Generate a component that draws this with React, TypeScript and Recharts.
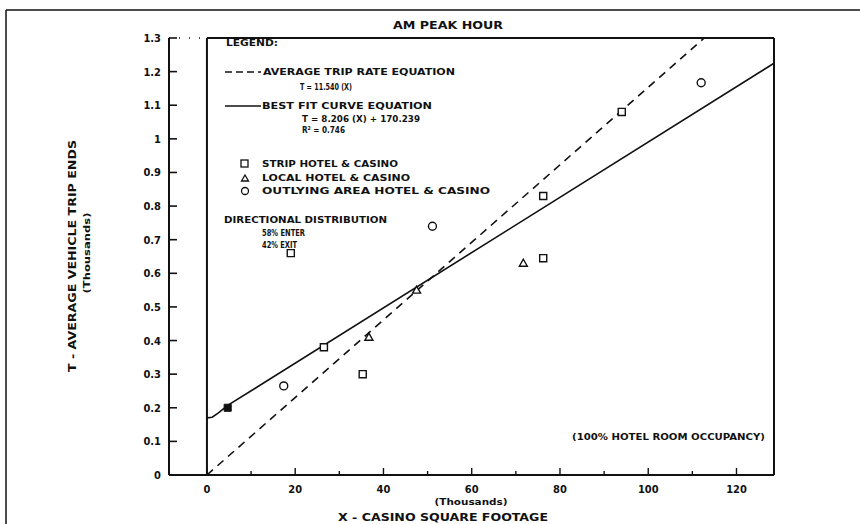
import React from "react";
import { ComposedChart, XAxis, YAxis, ZAxis, Scatter, Line, ReferenceLine, Customized } from "recharts";

const xTicks = [0, 10, 20, 30, 40, 50, 60, 70, 80, 90, 100, 110, 120];
const xLabelled = [0, 20, 40, 60, 80, 100, 120];
const yTicks = [0, 0.1, 0.2, 0.3, 0.4, 0.5, 0.6, 0.7, 0.8, 0.9, 1, 1.1, 1.2, 1.3];

// thousands of sq ft vs thousands of trip ends
const stripHotels = [
  { x: 19, y: 0.66 },
  { x: 26.5, y: 0.38 },
  { x: 35.3, y: 0.3 },
  { x: 76.2, y: 0.83 },
  { x: 76.2, y: 0.645 },
  { x: 94, y: 1.08 },
];
const stripOnLine = [{ x: 4.7, y: 0.2 }];
const localHotels = [
  { x: 36.7, y: 0.41 },
  { x: 47.5, y: 0.55 },
  { x: 71.7, y: 0.63 },
];
const outlyingHotels = [
  { x: 17.4, y: 0.265 },
  { x: 51.1, y: 0.74 },
  { x: 112, y: 1.167 },
];
const avgRateLine = [
  { x: 0, y: 0 },
  { x: 112.7, y: 1.3 },
];
const bestFitLine = [
  { x: 0, y: 0.17 },
  { x: 1.2, y: 0.172 },
  { x: 2.6, y: 0.185 },
  { x: 4.7, y: 0.207 },
  { x: 128.5, y: 1.225 },
];

const FONT = "'Liberation Sans Narrow', 'DejaVu Sans Condensed', 'Liberation Sans', sans-serif";
const INK = "#111";

const YTick = ({ x, y, payload }: any) => (
  <g>
    <line x1={x + 7} x2={x + 15} y1={y} y2={y} stroke={INK} strokeWidth={1.6} />
    <text x={x - 1} y={y + 4} textAnchor="end" fontFamily={FONT} fontWeight="bold" fontSize={11} fill={INK}>
      {payload.value}
    </text>
  </g>
);

const XTick = ({ x, y, payload }: any) => {
  const major = xLabelled.includes(payload.value);
  return (
    <g>
      <line x1={x} x2={x} y1={y} y2={y - (major ? 7 : 4)} stroke={INK} strokeWidth={1.4} />
      {major && (
        <text x={x} y={y + 18} textAnchor="middle" fontFamily={FONT} fontWeight="bold" fontSize={11} fill={INK}>
          {payload.value}
        </text>
      )}
    </g>
  );
};

const Tri = ({ cx, cy }: any) => (
  <path d={`M${cx},${cy - 4} L${cx + 4},${cy + 3} L${cx - 4},${cy + 3} Z`} fill="#fff" stroke={INK} strokeWidth={1.4} />
);

const T = ({ x, y, len, size = 8.5, anchor = "start", children }: any) => (
  <text
    x={x}
    y={y}
    textAnchor={anchor}
    textLength={len}
    lengthAdjust="spacingAndGlyphs"
    fontFamily={FONT}
    fontWeight="bold"
    fontSize={size}
    fill={INK}
  >
    {children}
  </text>
);

const Notes = () => (
  <g>
    {/* outer frame */}
    <line x1={6} x2={860} y1={10} y2={10} stroke={INK} strokeWidth={1.5} />
    <line x1={6} x2={6} y1={10} y2={524} stroke={INK} strokeWidth={1.5} />
    <T x={448} y={29} len={110} size={10} anchor="middle">AM PEAK HOUR</T>

    <T x={226} y={46} len={52}>LEGEND:</T>
    <line x1={225} x2={261} y1={72} y2={72} stroke={INK} strokeWidth={1.3} strokeDasharray="7 4" />
    <T x={263} y={75} len={192}>AVERAGE TRIP RATE EQUATION</T>
    <T x={300} y={90} len={52}>T = 11.540 (X)</T>
    <line x1={225} x2={261} y1={106} y2={106} stroke={INK} strokeWidth={1.3} />
    <T x={262} y={109} len={170}>BEST FIT CURVE EQUATION</T>
    <T x={302} y={122} len={118}>T = 8.206 (X) + 170.239</T>
    <T x={302} y={133} len={43}>R² = 0.746</T>

    <rect x={241} y={160} width={7} height={7} fill="white" stroke={INK} strokeWidth={1.3} />
    <T x={262} y={167} len={136}>STRIP HOTEL &amp; CASINO</T>
    <path d="M245,175 L248.5,181 L241.5,181 Z" fill="white" stroke={INK} strokeWidth={1.3} />
    <T x={262} y={181} len={148}>LOCAL HOTEL &amp; CASINO</T>
    <circle cx={245} cy={191} r={3.5} fill="white" stroke={INK} strokeWidth={1.3} />
    <T x={262} y={194} len={228}>OUTLYING AREA HOTEL &amp; CASINO</T>

    <T x={224} y={223} len={163}>DIRECTIONAL DISTRIBUTION</T>
    <T x={262} y={236} len={43}>58% ENTER</T>
    <T x={262} y={248} len={35}>42% EXIT</T>

    <T x={572} y={440} len={193}>(100% HOTEL ROOM OCCUPANCY)</T>

    <g transform="translate(76,256) rotate(-90)">
      <T x={0} y={0} len={232} size={11} anchor="middle">T - AVERAGE VEHICLE TRIP ENDS</T>
    </g>
    <g transform="translate(90,253) rotate(-90)">
      <T x={0} y={0} len={81} size={8} anchor="middle">(Thousands)</T>
    </g>
    <T x={471} y={505} len={73} size={8} anchor="middle">(Thousands)</T>
    <T x={443} y={521} len={210} size={11} anchor="middle">X - CASINO SQUARE FOOTAGE</T>
  </g>
);

export default function App() {
  return (
    <div style={{ position: "absolute", left: 0, top: 0, width: 860, height: 524, background: "#fff" }}>
      <ComposedChart width={860} height={524} margin={{ top: 38, right: 86, bottom: 19, left: 129 }}>
        <XAxis
          type="number"
          dataKey="x"
          domain={[-8.6, 128.5]}
          ticks={xTicks}
          allowDataOverflow
          height={30}
          tickSize={0}
          tickMargin={0}
          tick={<XTick />}
          axisLine={{ stroke: INK, strokeWidth: 2 }}
          interval={0}
        />
        <YAxis
          type="number"
          dataKey="y"
          domain={[0, 1.3]}
          ticks={yTicks}
          allowDataOverflow
          width={40}
          tickSize={0}
          tickMargin={7}
          tick={<YTick />}
          axisLine={{ stroke: INK, strokeWidth: 2 }}
          interval={0}
        />
        <ZAxis range={[50, 50]} />
        <ReferenceLine x={0} stroke={INK} strokeWidth={2} />
        <ReferenceLine x={128.5} stroke={INK} strokeWidth={2} />
        <ReferenceLine segment={[{ x: 0, y: 1.3 }, { x: 128.5, y: 1.3 }]} stroke={INK} strokeWidth={2} />
        <ReferenceLine segment={[{ x: -8.6, y: 1.3 }, { x: 0, y: 1.3 }]} stroke={INK} strokeWidth={1.5} strokeDasharray="1 9" />
        <Line data={avgRateLine} dataKey="y" type="linear" stroke={INK} strokeWidth={1.6} strokeDasharray="8 6" dot={false} isAnimationActive={false} />
        <Line data={bestFitLine} dataKey="y" type="linear" stroke={INK} strokeWidth={1.6} dot={false} isAnimationActive={false} />
        <Scatter data={stripHotels} shape="square" fill="#fff" stroke={INK} strokeWidth={1.4} isAnimationActive={false} />
        <Scatter data={stripOnLine} shape="square" fill={INK} stroke={INK} strokeWidth={1} isAnimationActive={false} />
        <Scatter data={localHotels} shape={<Tri />} isAnimationActive={false} />
        <Scatter data={outlyingHotels} shape="circle" fill="#fff" stroke={INK} strokeWidth={1.4} isAnimationActive={false} />
        <Customized component={<Notes />} />
      </ComposedChart>
    </div>
  );
}
